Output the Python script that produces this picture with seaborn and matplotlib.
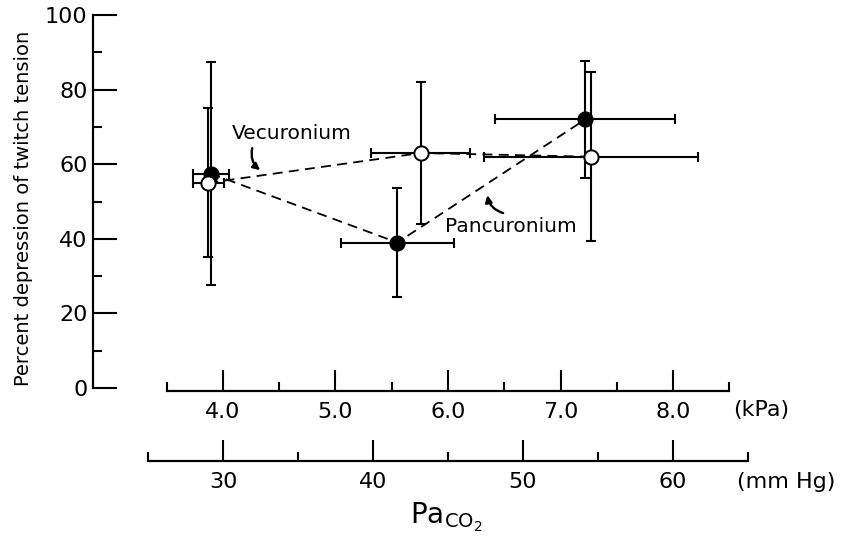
import matplotlib
matplotlib.use("Agg")
import matplotlib.pyplot as plt
import seaborn as sns
import pandas as pd

# Data (PaCO2 in kPa, % depression of twitch tension)
kpa_panc = [3.89, 5.55, 7.22]
pct_panc = [57.5, 39, 72]
kpa_err_panc = [0.16, 0.50, 0.80]
pct_err_panc = [30, 14.7, 15.6]

kpa_vec = [3.87, 5.76, 7.27]
pct_vec = [55, 63, 62]
kpa_err_vec = [0.14, 0.44, 0.95]
pct_err_vec = [20, 19, 22.7]

pct_ticks = [0, 20, 40, 60, 80, 100]
pct_minor = [10, 30, 50, 70, 90]
kpa_ticks = [4.0, 5.0, 6.0, 7.0, 8.0]
kpa_minor = [3.5, 4.5, 5.5, 6.5, 7.5, 8.5]
mmhg_ticks = [30, 40, 50, 60]
mmhg_minor = [25, 35, 45, 55, 65]

df = pd.DataFrame({
    "kpa": kpa_panc + kpa_vec,
    "pct": pct_panc + pct_vec,
    "drug": ["Pancuronium"] * 3 + ["Vecuronium"] * 3,
})

sns.set_style("ticks")
plt.rcParams['font.family'] = ['DejaVu Sans']
for k in ["text.color", "axes.labelcolor", "xtick.color", "ytick.color", "axes.edgecolor"]:
    plt.rcParams[k] = "black"

W, H = 850, 542
fig = plt.figure(figsize=(W / 100, H / 100), dpi=100)

# pixel layout: 1 kPa = 112.5 px, 4.0 kPa at x=223 px
px_kpa = 112.5
x4 = 223.0
left_px = 93.0
xmin = 4 - (x4 - left_px) / px_kpa
xmax = 8.6
ax = fig.add_axes([left_px / W, 1 - 388 / H, (xmax - xmin) * px_kpa / W, 373 / H])
ax.set_facecolor("none")

# dashed lines connecting means
for drug in ["Vecuronium", "Pancuronium"]:
    sub = df[df["drug"] == drug]
    sns.lineplot(data=sub, x="kpa", y="pct", ax=ax, color="k", lw=1.3,
                 linestyle=(0, (5.5, 3.5)), estimator=None, sort=False, zorder=2)

ax.errorbar(kpa_panc, pct_panc, xerr=kpa_err_panc, yerr=pct_err_panc, fmt="none",
            ecolor="k", elinewidth=1.5, capsize=3.5, capthick=1.5, zorder=3)
ax.errorbar(kpa_vec, pct_vec, xerr=kpa_err_vec, yerr=pct_err_vec, fmt="none",
            ecolor="k", elinewidth=1.5, capsize=3.5, capthick=1.5, zorder=3)

sns.scatterplot(data=df[df["drug"] == "Pancuronium"], x="kpa", y="pct", ax=ax,
                color="k", edgecolor="k", s=105, linewidth=1.4, zorder=5)
sns.scatterplot(data=df[df["drug"] == "Vecuronium"], x="kpa", y="pct", ax=ax,
                color="white", edgecolor="k", s=105, linewidth=1.4, zorder=5)

ax.set_xlim(xmin, xmax)
ax.set_ylim(0, 100)
ax.set_yticks(pct_ticks)
ax.set_yticks(pct_minor, minor=True)
ax.set_yticklabels([str(t) for t in pct_ticks])
ax.tick_params(axis="y", which="major", direction="in", length=17, width=1.5,
               labelsize=16, pad=4, left=True)
ax.tick_params(axis="y", which="minor", direction="in", length=6.5, width=1.5, left=True)
ax.set_xticks([])
ax.set_xlabel("")
ax.set_ylabel("")
for s in ["top", "right", "bottom"]:
    ax.spines[s].set_visible(False)
ax.spines["left"].set_linewidth(1.6)

# annotations
ax.text(4.08, 68.3, "Vecuronium", fontsize=14.5, va="center", ha="left")
ax.annotate("", xy=(4.33, 58.4), xytext=(4.26, 64.3),
            arrowprops=dict(arrowstyle="-|>", connectionstyle="arc3,rad=0.3",
                            lw=1.7, color="k", shrinkA=0, shrinkB=0, mutation_scale=10))
ax.text(5.97, 43.2, "Pancuronium", fontsize=14.5, va="center", ha="left")
ax.annotate("", xy=(6.35, 51.7), xytext=(6.49, 46.9),
            arrowprops=dict(arrowstyle="-|>", connectionstyle="arc3,rad=-0.3",
                            lw=1.7, color="k", shrinkA=0, shrinkB=0, mutation_scale=10))


def scale_axis(left, width, y_px, lim, majors, minors, fmt):
    a = fig.add_axes([left / W, 1 - y_px / H, width / W, 0.02])
    a.set_facecolor("none")
    a.set_xlim(*lim)
    a.set_xticks(majors)
    a.set_xticklabels([fmt.format(t) for t in majors])
    a.set_xticks(minors, minor=True)
    a.set_yticks([])
    for s in ["top", "right", "left"]:
        a.spines[s].set_visible(False)
    a.spines["bottom"].set_linewidth(1.6)
    a.tick_params(axis="x", which="major", direction="in", length=15, width=1.5,
                  labelsize=16, pad=8, bottom=True)
    a.tick_params(axis="x", which="minor", direction="in", length=6.5, width=1.5, bottom=True)
    return a


# kPa scale
scale_axis(x4 - 0.5 * px_kpa, 5 * px_kpa, 390.7, (3.5, 8.5), kpa_ticks, kpa_minor, "{:.1f}")
# mm Hg scale (1 kPa = 7.5 mm Hg)
px_mm = px_kpa / 7.5
scale_axis(x4 - 5 * px_mm, 40 * px_mm, 461, (25, 65), mmhg_ticks, mmhg_minor, "{:d}")

fig.text(733 / W, 1 - 410 / H, "(kPa)", fontsize=16, ha="left", va="center")
fig.text(737 / W, 1 - 482 / H, "(mm Hg)", fontsize=16, ha="left", va="center")
fig.text(410 / W, 1 - 517 / H, r"$\mathregular{Pa_{CO_2}}$", fontsize=20, ha="left", va="center")
fig.text(24 / W, 1 - 208 / H, "Percent depression of twitch tension", fontsize=14,
         rotation=90, ha="center", va="center")

fig.savefig("out.png", dpi=100)
